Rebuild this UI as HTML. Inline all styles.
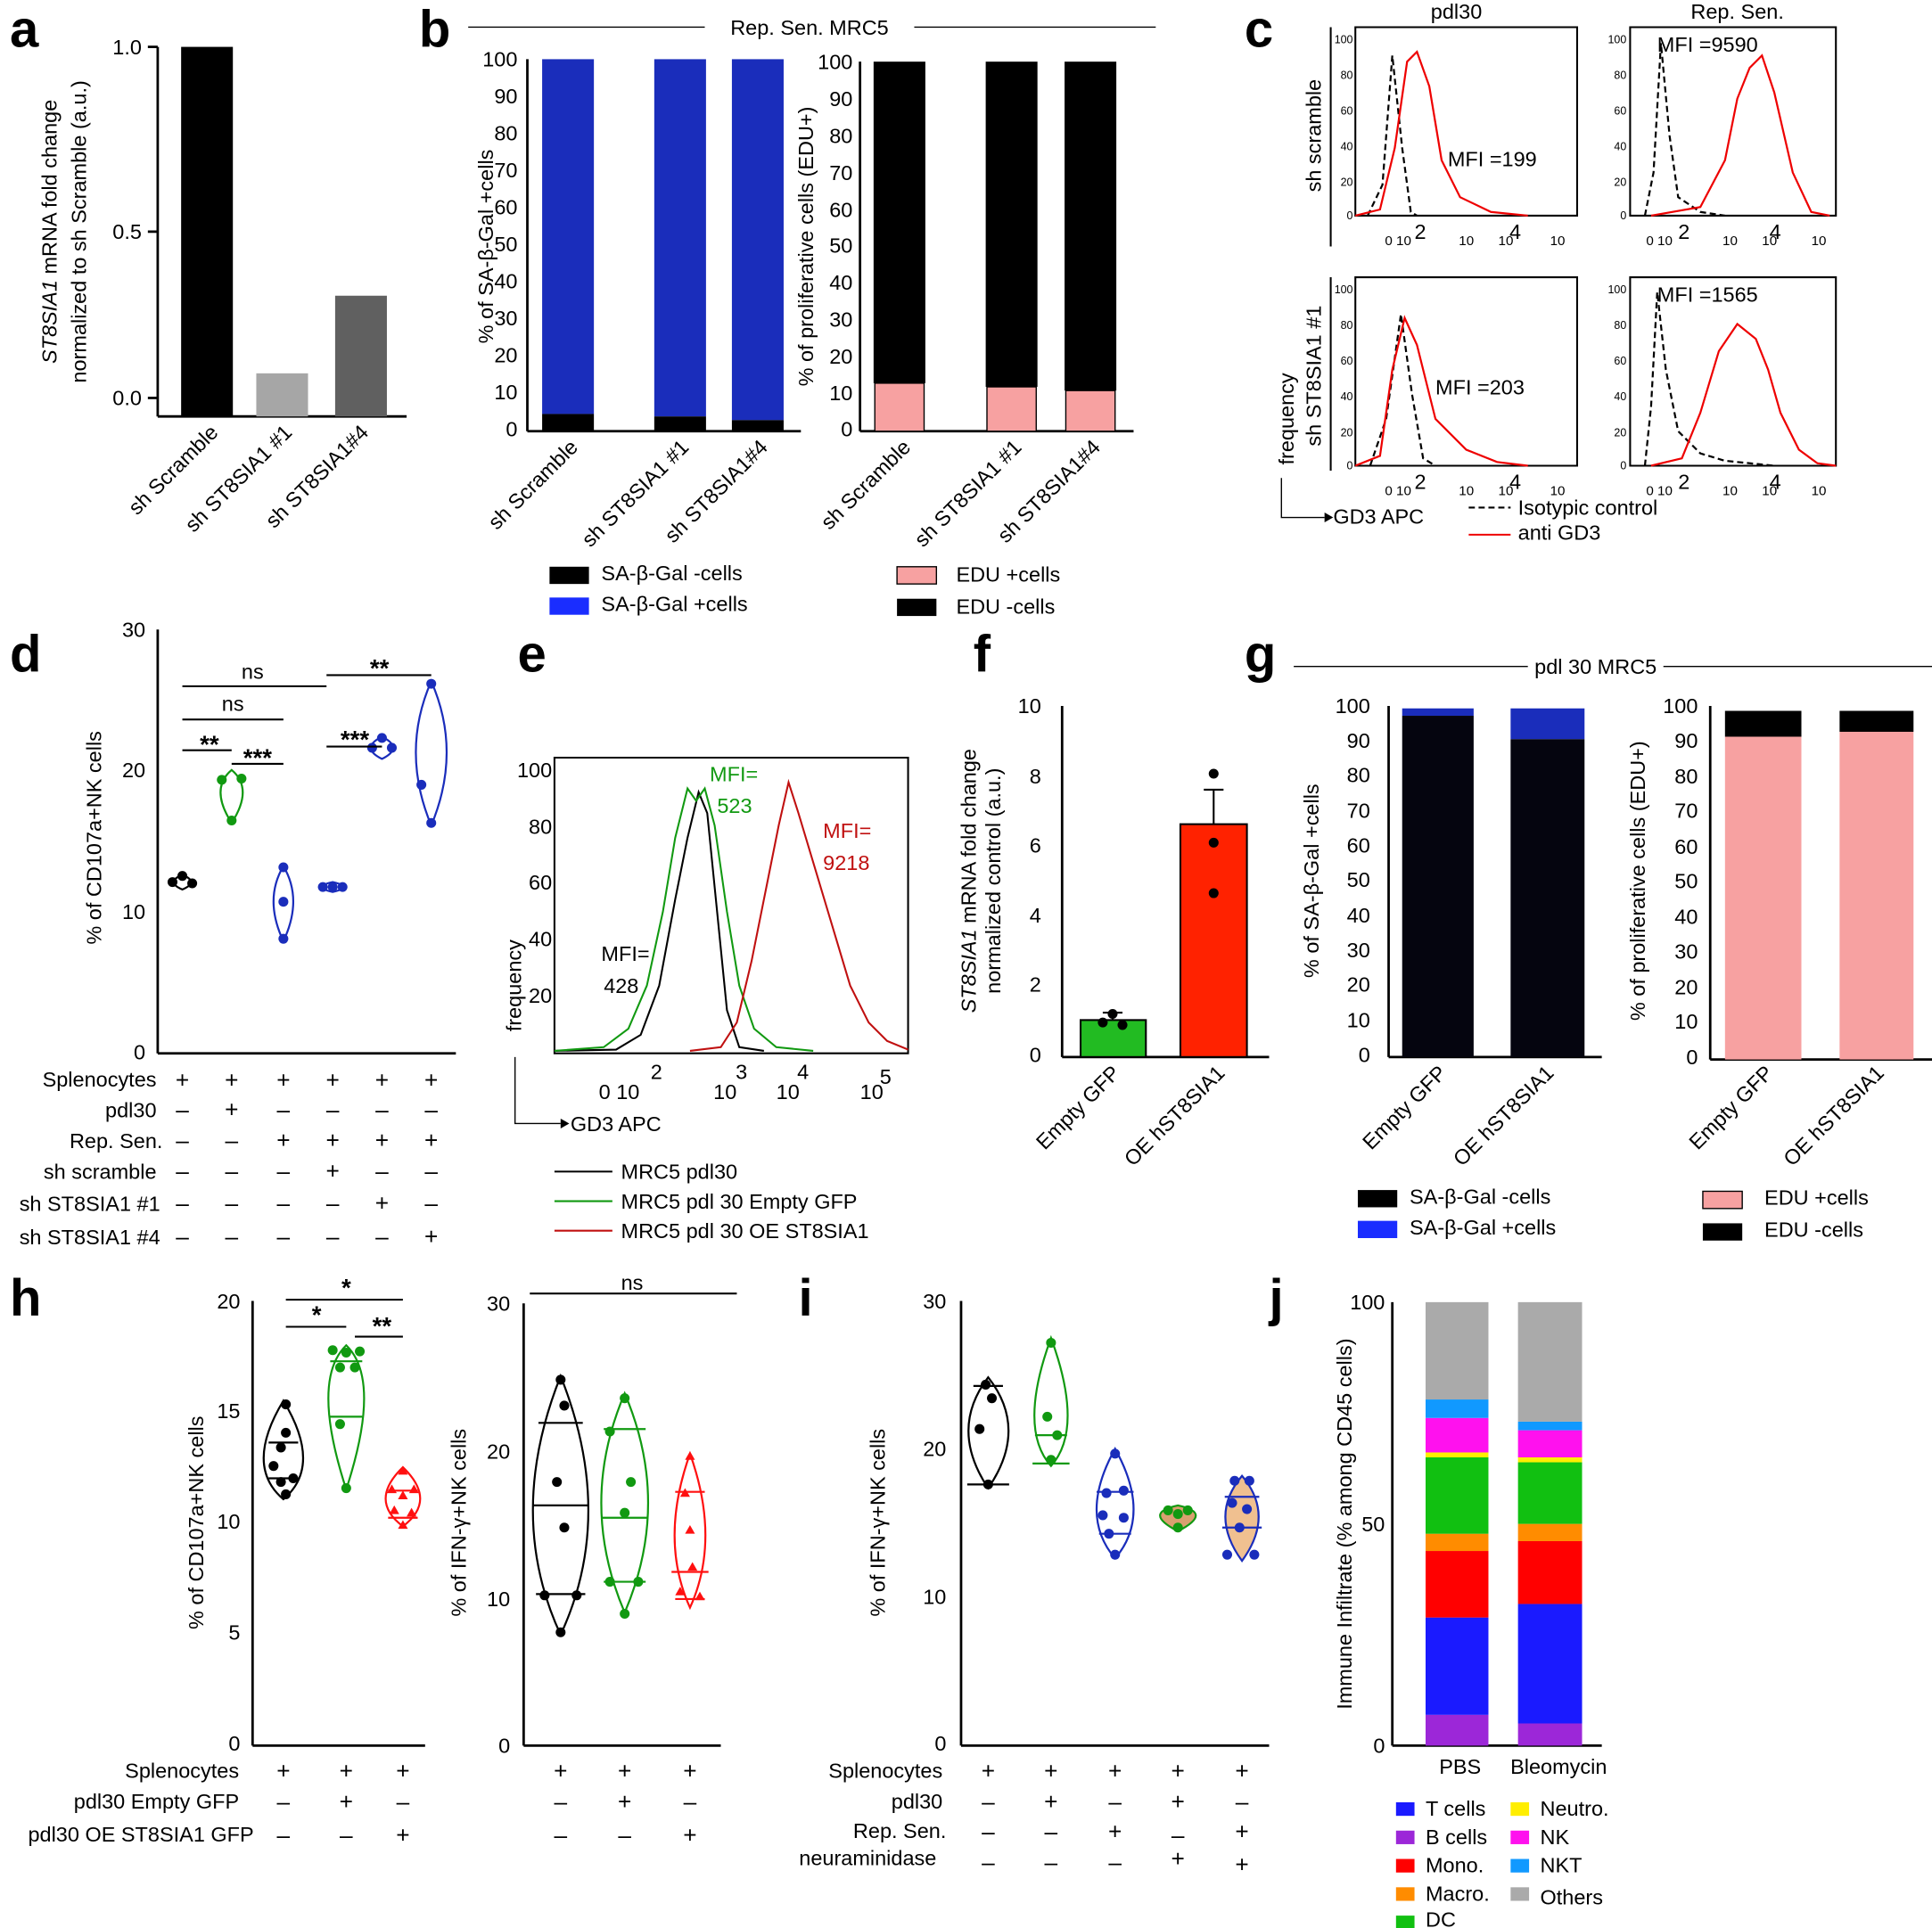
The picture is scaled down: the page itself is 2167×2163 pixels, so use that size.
<!DOCTYPE html>
<html><head><meta charset="utf-8"><style>html,body{margin:0;padding:0;background:#fff}svg{display:block}text{font-family:"Liberation Sans",sans-serif}</style></head><body>
<svg width="2167" height="2163" viewBox="0 0 1568 1565" xmlns="http://www.w3.org/2000/svg">
<rect width="1568" height="1565" fill="#fff"/>
<g font-weight="bold" font-size="42">
<text x="8" y="38">a</text><text x="340" y="38">b</text><text x="1010" y="38">c</text>
<text x="8" y="545">d</text><text x="420" y="545">e</text><text x="790" y="545">f</text><text x="1010" y="545">g</text>
<text x="8" y="1068">h</text><text x="648" y="1068">i</text><text x="1030" y="1068">j</text>
</g>
<g font-size="17" fill="#000">
<!-- a -->
<line x1="128" y1="38" x2="128" y2="338" stroke="#000" stroke-width="2"/>
<line x1="128" y1="338" x2="330" y2="338" stroke="#000" stroke-width="2"/>
<g stroke="#000" stroke-width="2"><line x1="120" y1="38" x2="128" y2="38"/><line x1="120" y1="188" x2="128" y2="188"/><line x1="120" y1="323" x2="128" y2="323"/></g>
<text x="115" y="44" text-anchor="end">1.0</text><text x="115" y="194" text-anchor="end">0.5</text><text x="115" y="329" text-anchor="end">0.0</text>
<rect x="147" y="38" width="42" height="300" fill="#000"/><rect x="208" y="303" width="42" height="35" fill="#a6a6a6"/><rect x="272" y="240" width="42" height="98" fill="#606060"/>
<text transform="translate(46,188) rotate(-90)" text-anchor="middle"><tspan font-style="italic">ST8SIA1</tspan> mRNA fold change</text>
<text transform="translate(70,188) rotate(-90)" text-anchor="middle">normalized to sh Scramble (a.u.)</text>
<text transform="translate(178,352) rotate(-45)" text-anchor="end">sh Scramble</text>
<text transform="translate(238,352) rotate(-45)" text-anchor="end">sh ST8SIA1 #1</text>
<text transform="translate(300,352) rotate(-45)" text-anchor="end">sh ST8SIA1#4</text>
<!-- b -->
<line x1="380" y1="22" x2="572" y2="22" stroke="#000"/><line x1="742" y1="22" x2="938" y2="22" stroke="#000"/>
<text x="657" y="28" text-anchor="middle">Rep. Sen. MRC5</text>
<line x1="428" y1="48" x2="428" y2="350" stroke="#000" stroke-width="2"/><line x1="428" y1="350" x2="650" y2="350" stroke="#000" stroke-width="2"/>
<g text-anchor="end">
<text x="420" y="54">100</text><text x="420" y="84">90</text><text x="420" y="114">80</text><text x="420" y="144">70</text><text x="420" y="174">60</text><text x="420" y="204">50</text><text x="420" y="234">40</text><text x="420" y="264">30</text><text x="420" y="294">20</text><text x="420" y="324">10</text><text x="420" y="354">0</text>
<text x="692" y="56">100</text><text x="692" y="86">90</text><text x="692" y="116">80</text><text x="692" y="146">70</text><text x="692" y="176">60</text><text x="692" y="205">50</text><text x="692" y="235">40</text><text x="692" y="265">30</text><text x="692" y="295">20</text><text x="692" y="325">10</text><text x="692" y="354">0</text>
</g>
<rect x="440" y="48" width="42" height="288" fill="#1a2dbb"/><rect x="440" y="336" width="42" height="14" fill="#000"/>
<rect x="531" y="48" width="42" height="290" fill="#1a2dbb"/><rect x="531" y="338" width="42" height="12" fill="#000"/>
<rect x="594" y="48" width="42" height="293" fill="#1a2dbb"/><rect x="594" y="341" width="42" height="9" fill="#000"/>
<text transform="translate(400,200) rotate(-90)" text-anchor="middle">% of SA-β-Gal +cells</text>
<line x1="698" y1="50" x2="698" y2="350" stroke="#000" stroke-width="2"/><line x1="698" y1="350" x2="920" y2="350" stroke="#000" stroke-width="2"/>
<rect x="709" y="50" width="42" height="261" fill="#000"/><rect x="710" y="311" width="40" height="39" fill="#f7a1a1" stroke="#000"/>
<rect x="800" y="50" width="42" height="264" fill="#000"/><rect x="801" y="314" width="40" height="36" fill="#f7a1a1" stroke="#000"/>
<rect x="864" y="50" width="42" height="267" fill="#000"/><rect x="865" y="317" width="40" height="33" fill="#f7a1a1" stroke="#000"/>
<text transform="translate(660,200) rotate(-90)" text-anchor="middle">% of proliferative cells (EDU+)</text>
<text transform="translate(470,364) rotate(-45)" text-anchor="end">sh Scramble</text>
<text transform="translate(560,364) rotate(-45)" text-anchor="end">sh ST8SIA1 #1</text>
<text transform="translate(624,364) rotate(-45)" text-anchor="end">sh ST8SIA1#4</text>
<text transform="translate(740,364) rotate(-45)" text-anchor="end">sh Scramble</text>
<text transform="translate(830,364) rotate(-45)" text-anchor="end">sh ST8SIA1 #1</text>
<text transform="translate(894,364) rotate(-45)" text-anchor="end">sh ST8SIA1#4</text>
<rect x="446" y="460" width="32" height="14" fill="#000"/><text x="488" y="471">SA-β-Gal -cells</text>
<rect x="446" y="485" width="32" height="14" fill="#1a2dff"/><text x="488" y="496">SA-β-Gal +cells</text>
<rect x="728" y="460" width="32" height="14" fill="#f7a1a1" stroke="#000"/><text x="776" y="472">EDU +cells</text>
<rect x="728" y="486" width="32" height="14" fill="#000"/><text x="776" y="498">EDU -cells</text>
<!-- c -->
<g font-size="9">
<g fill="none" stroke="#000" stroke-width="1.5">
<path d="M1100 22H1280V175H1100Z"/><path d="M1323 22H1490V175H1323Z"/><path d="M1100 225H1280V378H1100Z"/><path d="M1323 225H1490V378H1323Z"/>
<line x1="1080" y1="22" x2="1080" y2="200"/><line x1="1080" y1="225" x2="1080" y2="382"/>
</g>
<text x="1098" y="35" text-anchor="end">100</text><text x="1098" y="64" text-anchor="end">80</text><text x="1098" y="93" text-anchor="end">60</text><text x="1098" y="122" text-anchor="end">40</text><text x="1098" y="151" text-anchor="end">20</text><text x="1098" y="178" text-anchor="end">0</text>
<text x="1320" y="35" text-anchor="end">100</text><text x="1320" y="64" text-anchor="end">80</text><text x="1320" y="93" text-anchor="end">60</text><text x="1320" y="122" text-anchor="end">40</text><text x="1320" y="151" text-anchor="end">20</text><text x="1320" y="178" text-anchor="end">0</text>
<text x="1098" y="238" text-anchor="end">100</text><text x="1098" y="267" text-anchor="end">80</text><text x="1098" y="296" text-anchor="end">60</text><text x="1098" y="325" text-anchor="end">40</text><text x="1098" y="354" text-anchor="end">20</text><text x="1098" y="381" text-anchor="end">0</text>
<text x="1320" y="238" text-anchor="end">100</text><text x="1320" y="267" text-anchor="end">80</text><text x="1320" y="296" text-anchor="end">60</text><text x="1320" y="325" text-anchor="end">40</text><text x="1320" y="354" text-anchor="end">20</text><text x="1320" y="381" text-anchor="end">0</text>
</g>
<g font-size="11"><text x="1124" y="199">0  10</text><text x="1184" y="199">10</text><text x="1216" y="199">10</text><text x="1258" y="199">10</text>
<text x="1336" y="199">0  10</text><text x="1398" y="199">10</text><text x="1430" y="199">10</text><text x="1470" y="199">10</text>
<text x="1124" y="402">0  10</text><text x="1184" y="402">10</text><text x="1216" y="402">10</text><text x="1258" y="402">10</text>
<text x="1336" y="402">0  10</text><text x="1398" y="402">10</text><text x="1430" y="402">10</text><text x="1470" y="402">10</text></g>
<g font-size="17"><text x="1148" y="194">2</text><text x="1225" y="194">4</text><text x="1362" y="194">2</text><text x="1436" y="194">4</text><text x="1148" y="397">2</text><text x="1225" y="397">4</text><text x="1362" y="397">2</text><text x="1436" y="397">4</text></g>
<g fill="none" stroke-width="1.6">
<path d="M1110 175L1122 150L1130 45L1138 120L1145 172L1150 175" stroke="#000" stroke-dasharray="5,3"/>
<path d="M1100 175L1120 170L1132 120L1142 50L1150 42L1160 70L1170 130L1185 160L1210 172L1240 175" stroke="#e00"/>
<path d="M1335 175L1342 140L1348 35L1355 110L1362 160L1380 172L1400 175" stroke="#000" stroke-dasharray="5,3"/>
<path d="M1340 175L1380 168L1400 130L1410 80L1420 55L1430 45L1440 75L1455 140L1470 172L1485 175" stroke="#e00"/>
<path d="M1112 378L1125 340L1137 255L1146 320L1155 372L1165 378" stroke="#000" stroke-dasharray="5,3"/>
<path d="M1100 378L1120 370L1130 300L1140 258L1150 280L1165 340L1190 365L1215 375L1240 378" stroke="#e00"/>
<path d="M1335 378L1340 330L1345 237L1352 300L1362 350L1380 368L1400 374L1440 378" stroke="#000" stroke-dasharray="5,3"/>
<path d="M1340 378L1365 372L1380 335L1395 285L1410 263L1425 275L1435 300L1445 335L1460 365L1475 376L1490 378" stroke="#e00"/>
</g>
<text x="1175" y="135">MFI =199</text><text x="1345" y="42">MFI =9590</text><text x="1165" y="320">MFI =203</text><text x="1345" y="245">MFI =1565</text>
<text x="1182" y="15" text-anchor="middle">pdl30</text><text x="1410" y="15" text-anchor="middle">Rep. Sen.</text>
<text transform="translate(1072,110) rotate(-90)" text-anchor="middle">sh scramble</text>
<text transform="translate(1072,305) rotate(-90)" text-anchor="middle">sh ST8SIA1 #1</text>
<text transform="translate(1050,340) rotate(-90)" text-anchor="middle">frequency</text>
<path d="M1040 388V420H1075" fill="none" stroke="#000"/><path d="M1075 416L1082 420L1075 424Z"/>
<text x="1082" y="425">GD3 APC</text>
<line x1="1192" y1="412" x2="1226" y2="412" stroke="#000" stroke-dasharray="5,3" stroke-width="1.5"/><text x="1232" y="418">Isotypic control</text>
<line x1="1192" y1="434" x2="1226" y2="434" stroke="#e00" stroke-width="1.5"/><text x="1232" y="438">anti GD3</text>
<!-- d -->
<line x1="128" y1="511" x2="128" y2="855" stroke="#000" stroke-width="2"/><line x1="128" y1="855" x2="370" y2="855" stroke="#000" stroke-width="2"/>
<g text-anchor="end"><text x="118" y="517">30</text><text x="118" y="631">20</text><text x="118" y="746">10</text><text x="118" y="860">0</text></g>
<text transform="translate(82,680) rotate(-90)" text-anchor="middle">% of CD107a+NK cells</text>
<g fill="none" stroke-width="1.6">
<path d="M148 710Q162 716 148 722Q134 716 148 710Z" stroke="#000"/>
<path d="M188 625Q206 640 188 668Q170 640 188 625Z" stroke="#119911"/>
<path d="M230 703Q246 730 230 764Q214 730 230 703Z" stroke="#1a2dbb"/>
<path d="M270 716Q288 720 270 724Q252 720 270 716Z" stroke="#1a2dbb"/>
<path d="M310 598Q328 607 310 616Q292 607 310 598Z" stroke="#1a2dbb"/>
<path d="M350 553Q375 610 350 670Q325 610 350 553Z" stroke="#1a2dbb"/>
</g>
<g fill="#000"><circle cx="140" cy="716" r="4"/><circle cx="148" cy="711" r="4"/><circle cx="156" cy="717" r="4"/></g>
<g fill="#119911"><circle cx="180" cy="633" r="4"/><circle cx="196" cy="632" r="4"/><circle cx="188" cy="666" r="4"/></g>
<g fill="#1a2dbb"><circle cx="230" cy="704" r="4"/><circle cx="230" cy="732" r="4"/><circle cx="230" cy="762" r="4"/><circle cx="262" cy="720" r="4"/><circle cx="270" cy="720" r="4"/><circle cx="278" cy="720" r="4"/><circle cx="302" cy="607" r="4"/><circle cx="310" cy="599" r="4"/><circle cx="318" cy="607" r="4"/><circle cx="350" cy="555" r="4"/><circle cx="342" cy="637" r="4"/><circle cx="350" cy="668" r="4"/></g>
<g stroke="#000" stroke-width="1.5"><line x1="148" y1="557" x2="265" y2="557"/><line x1="148" y1="584" x2="230" y2="584"/><line x1="148" y1="609" x2="188" y2="609"/><line x1="188" y1="620" x2="230" y2="620"/><line x1="265" y1="548" x2="350" y2="548"/><line x1="265" y1="606" x2="310" y2="606"/></g>
<text x="205" y="551" text-anchor="middle">ns</text><text x="189" y="577" text-anchor="middle">ns</text>
<g font-weight="bold" font-size="20" text-anchor="middle"><text x="170" y="611">**</text><text x="209" y="622">***</text><text x="308" y="549">**</text><text x="288" y="607">***</text></g>
<g text-anchor="end"><text x="127" y="882">Splenocytes</text><text x="127" y="907">pdl30</text><text x="132" y="932">Rep. Sen.</text><text x="127" y="957">sh scramble</text><text x="130" y="983">sh ST8SIA1 #1</text><text x="130" y="1010">sh ST8SIA1 #4</text></g>
<g text-anchor="middle" font-size="19">
<text x="148" y="883">+</text><text x="188" y="883">+</text><text x="230" y="883">+</text><text x="270" y="883">+</text><text x="310" y="883">+</text><text x="350" y="883">+</text>
<text x="148" y="907">–</text><text x="188" y="907">+</text><text x="230" y="907">–</text><text x="270" y="907">–</text><text x="310" y="907">–</text><text x="350" y="907">–</text>
<text x="148" y="932">–</text><text x="188" y="932">–</text><text x="230" y="932">+</text><text x="270" y="932">+</text><text x="310" y="932">+</text><text x="350" y="932">+</text>
<text x="148" y="957">–</text><text x="188" y="957">–</text><text x="230" y="957">–</text><text x="270" y="957">+</text><text x="310" y="957">–</text><text x="350" y="957">–</text>
<text x="148" y="983">–</text><text x="188" y="983">–</text><text x="230" y="983">–</text><text x="270" y="983">–</text><text x="310" y="983">+</text><text x="350" y="983">–</text>
<text x="148" y="1010">–</text><text x="188" y="1010">–</text><text x="230" y="1010">–</text><text x="270" y="1010">–</text><text x="310" y="1010">–</text><text x="350" y="1010">+</text>
</g>
<!-- e -->
<path d="M450 615H737V855H450Z" fill="none" stroke="#000" stroke-width="1.5"/>
<g text-anchor="end"><text x="448" y="631">100</text><text x="448" y="677">80</text><text x="448" y="722">60</text><text x="448" y="768">40</text><text x="448" y="814">20</text></g>
<g fill="none" stroke-width="1.5">
<path d="M450 853L500 852L520 840L535 800L548 730L558 680L567 643L574 660L582 740L590 820L600 850L620 853" stroke="#000"/>
<path d="M450 853L490 850L510 835L525 800L538 740L548 680L558 640L565 650L572 640L580 670L590 740L600 800L612 835L630 850L660 853" stroke="#119911"/>
<path d="M560 853L585 850L598 830L610 780L622 720L632 670L640 635L648 660L660 700L675 750L690 800L705 830L720 845L737 852" stroke="#c01010"/>
</g>
<text x="488" y="780">MFI=</text><text x="490" y="806">428</text>
<text x="576" y="634" fill="#119911">MFI=</text><text x="582" y="660" fill="#119911">523</text>
<text x="668" y="680" fill="#c01010">MFI=</text><text x="668" y="706" fill="#c01010">9218</text>
<text x="486" y="892">0  10</text><text x="528" y="876">2</text><text x="579" y="892">10</text><text x="597" y="876">3</text><text x="630" y="892">10</text><text x="647" y="876">4</text><text x="698" y="892">10</text><text x="714" y="880">5</text>
<text transform="translate(423,800) rotate(-90)" text-anchor="middle">frequency</text>
<path d="M418 858V912H455" fill="none" stroke="#000"/><path d="M455 908L462 912L455 916Z"/>
<text x="463" y="918">GD3 APC</text>
<line x1="450" y1="951" x2="497" y2="951" stroke="#000" stroke-width="1.5"/><text x="504" y="957">MRC5 pdl30</text>
<line x1="450" y1="975" x2="497" y2="975" stroke="#119911" stroke-width="1.5"/><text x="504" y="981">MRC5 pdl 30 Empty GFP</text>
<line x1="450" y1="999" x2="497" y2="999" stroke="#c01010" stroke-width="1.5"/><text x="504" y="1005">MRC5 pdl 30 OE ST8SIA1</text>
<!-- f -->
<line x1="862" y1="573" x2="862" y2="858" stroke="#000" stroke-width="2"/><line x1="862" y1="858" x2="1030" y2="858" stroke="#000" stroke-width="2"/>
<g text-anchor="end"><text x="845" y="579">10</text><text x="845" y="636">8</text><text x="845" y="692">6</text><text x="845" y="749">4</text><text x="845" y="805">2</text><text x="845" y="862">0</text></g>
<rect x="877" y="828" width="53" height="30" fill="#22bb22" stroke="#000" stroke-width="1.5"/>
<rect x="958" y="669" width="54" height="189" fill="#ff2200" stroke="#000" stroke-width="1.5"/>
<g stroke="#000" stroke-width="1.5"><path d="M903 828V822M895 822H911"/><path d="M985 669V641M977 641H993"/></g>
<g fill="#000"><circle cx="895" cy="830" r="4"/><circle cx="903" cy="823" r="4"/><circle cx="911" cy="832" r="4"/><circle cx="985" cy="628" r="4"/><circle cx="985" cy="684" r="4"/><circle cx="985" cy="725" r="4"/></g>
<text transform="translate(792,715) rotate(-90)" text-anchor="middle"><tspan font-style="italic">ST8SIA1</tspan> mRNA fold change</text>
<text transform="translate(812,715) rotate(-90)" text-anchor="middle">normalized control (a.u.)</text>
<text transform="translate(910,872) rotate(-45)" text-anchor="end">Empty GFP</text>
<text transform="translate(995,872) rotate(-45)" text-anchor="end">OE hST8SIA1</text>
<!-- g -->
<line x1="1050" y1="541" x2="1240" y2="541" stroke="#000"/><line x1="1350" y1="541" x2="1568" y2="541" stroke="#000"/>
<text x="1295" y="547" text-anchor="middle">pdl 30 MRC5</text>
<line x1="1127" y1="573" x2="1127" y2="858" stroke="#000" stroke-width="2"/><line x1="1127" y1="858" x2="1300" y2="858" stroke="#000" stroke-width="2"/>
<g text-anchor="end">
<text x="1112" y="579">100</text><text x="1112" y="607">90</text><text x="1112" y="635">80</text><text x="1112" y="664">70</text><text x="1112" y="692">60</text><text x="1112" y="720">50</text><text x="1112" y="749">40</text><text x="1112" y="777">30</text><text x="1112" y="805">20</text><text x="1112" y="834">10</text><text x="1112" y="862">0</text>
<text x="1378" y="579">100</text><text x="1378" y="607">90</text><text x="1378" y="636">80</text><text x="1378" y="664">70</text><text x="1378" y="693">60</text><text x="1378" y="721">50</text><text x="1378" y="750">40</text><text x="1378" y="778">30</text><text x="1378" y="807">20</text><text x="1378" y="835">10</text><text x="1378" y="864">0</text>
</g>
<rect x="1138" y="575" width="58" height="6" fill="#1a2dbb"/><rect x="1138" y="581" width="58" height="277" fill="#05050f"/>
<rect x="1226" y="575" width="60" height="25" fill="#1a2dbb"/><rect x="1226" y="600" width="60" height="258" fill="#05050f"/>
<text transform="translate(1070,715) rotate(-90)" text-anchor="middle">% of SA-β-Gal +cells</text>
<line x1="1388" y1="573" x2="1388" y2="860" stroke="#000" stroke-width="2"/><line x1="1388" y1="860" x2="1568" y2="860" stroke="#000" stroke-width="2"/>
<rect x="1400" y="577" width="62" height="21" fill="#000"/><rect x="1400" y="598" width="62" height="262" fill="#f7a1a1"/>
<rect x="1493" y="577" width="60" height="17" fill="#000"/><rect x="1493" y="594" width="60" height="266" fill="#f7a1a1"/>
<text transform="translate(1335,715) rotate(-90)" text-anchor="middle">% of proliferative cells (EDU+)</text>
<text transform="translate(1175,872) rotate(-45)" text-anchor="end">Empty GFP</text>
<text transform="translate(1262,872) rotate(-45)" text-anchor="end">OE hST8SIA1</text>
<text transform="translate(1440,872) rotate(-45)" text-anchor="end">Empty GFP</text>
<text transform="translate(1530,872) rotate(-45)" text-anchor="end">OE hST8SIA1</text>
<rect x="1102" y="966" width="32" height="14" fill="#000"/><text x="1144" y="977">SA-β-Gal -cells</text>
<rect x="1102" y="991" width="32" height="14" fill="#1a2dff"/><text x="1144" y="1002">SA-β-Gal +cells</text>
<rect x="1382" y="967" width="32" height="14" fill="#f7a1a1" stroke="#000"/><text x="1432" y="978">EDU +cells</text>
<rect x="1382" y="993" width="32" height="14" fill="#000"/><text x="1432" y="1004">EDU -cells</text>
<!-- h left -->
<line x1="205" y1="1056" x2="205" y2="1417" stroke="#000" stroke-width="2"/><line x1="205" y1="1417" x2="345" y2="1417" stroke="#000" stroke-width="2"/>
<g text-anchor="end"><text x="195" y="1062">20</text><text x="195" y="1151">15</text><text x="195" y="1241">10</text><text x="195" y="1331">5</text><text x="195" y="1421">0</text></g>
<text transform="translate(165,1236) rotate(-90)" text-anchor="middle">% of CD107a+NK cells</text>
<g fill="none" stroke-width="1.6">
<path d="M230 1137Q262 1190 230 1217Q198 1190 230 1137Z" stroke="#000"/><path d="M218 1171H242M218 1200H242" stroke="#000"/>
<path d="M281 1092Q310 1120 281 1209Q252 1120 281 1092Z" stroke="#119911"/><path d="M268 1105H294M268 1150H294" stroke="#119911"/>
<path d="M327 1191Q355 1218 327 1239Q299 1218 327 1191Z" stroke="#ff1010"/><path d="M315 1210H339M315 1232H339" stroke="#ff1010"/>
</g>
<g fill="#000"><circle cx="232" cy="1140" r="4"/><circle cx="232" cy="1163" r="4"/><circle cx="228" cy="1175" r="4"/><circle cx="222" cy="1190" r="4"/><circle cx="238" cy="1200" r="4"/><circle cx="228" cy="1203" r="4"/><circle cx="232" cy="1213" r="4"/></g>
<g fill="#119911"><circle cx="270" cy="1096" r="4"/><circle cx="281" cy="1098" r="4"/><circle cx="292" cy="1097" r="4"/><circle cx="276" cy="1110" r="4"/><circle cx="288" cy="1110" r="4"/><circle cx="276" cy="1156" r="4"/><circle cx="281" cy="1208" r="4"/></g>
<g fill="#ff1010"><path d="M327 1190l4 7h-8z"/><path d="M318 1205l4 7h-8z"/><path d="M336 1205l4 7h-8z"/><path d="M327 1210l4 7h-8z"/><path d="M320 1222l4 7h-8z"/><path d="M334 1224l4 7h-8z"/><path d="M327 1234l4 7h-8z"/></g>
<g stroke="#000" stroke-width="1.5"><line x1="232" y1="1055" x2="327" y2="1055"/><line x1="232" y1="1077" x2="281" y2="1077"/><line x1="288" y1="1085" x2="327" y2="1085"/></g>
<g font-weight="bold" font-size="20" text-anchor="middle"><text x="281" y="1052">*</text><text x="257" y="1074">*</text><text x="310" y="1083">**</text></g>
<g text-anchor="end"><text x="194" y="1443">Splenocytes</text><text x="194" y="1468">pdl30 Empty GFP</text><text x="206" y="1495">pdl30 OE ST8SIA1 GFP</text></g>
<g text-anchor="middle" font-size="19"><text x="230" y="1444">+</text><text x="281" y="1444">+</text><text x="327" y="1444">+</text><text x="230" y="1469">–</text><text x="281" y="1469">+</text><text x="327" y="1469">–</text><text x="230" y="1496">–</text><text x="281" y="1496">–</text><text x="327" y="1496">+</text></g>
<!-- h right -->
<line x1="425" y1="1058" x2="425" y2="1417" stroke="#000" stroke-width="2"/><line x1="425" y1="1417" x2="585" y2="1417" stroke="#000" stroke-width="2"/>
<g text-anchor="end"><text x="414" y="1064">30</text><text x="414" y="1184">20</text><text x="414" y="1304">10</text><text x="414" y="1423">0</text></g>
<text transform="translate(378,1236) rotate(-90)" text-anchor="middle">% of IFN-γ+NK cells</text>
<line x1="430" y1="1050" x2="598" y2="1050" stroke="#000" stroke-width="1.5"/><text x="513" y="1047" text-anchor="middle">ns</text>
<g fill="none" stroke-width="1.6">
<path d="M455 1117Q500 1230 455 1327Q410 1230 455 1117Z" stroke="#000"/><path d="M437 1155H473M433 1222H477M435 1294H475" stroke="#000"/>
<path d="M507 1131Q545 1220 507 1309Q469 1220 507 1131Z" stroke="#119911"/><path d="M490 1160H524M488 1232H526M490 1284H524" stroke="#119911"/>
<path d="M560 1180Q585 1250 560 1305Q535 1250 560 1180Z" stroke="#ff1010"/><path d="M548 1211H572M545 1276H575M548 1298H572" stroke="#ff1010"/>
</g>
<g fill="#000"><circle cx="455" cy="1120" r="4"/><circle cx="458" cy="1141" r="4"/><circle cx="452" cy="1203" r="4"/><circle cx="458" cy="1240" r="4"/><circle cx="442" cy="1295" r="4"/><circle cx="468" cy="1295" r="4"/><circle cx="455" cy="1325" r="4"/></g>
<g fill="#119911"><circle cx="507" cy="1135" r="4"/><circle cx="495" cy="1162" r="4"/><circle cx="512" cy="1203" r="4"/><circle cx="507" cy="1228" r="4"/><circle cx="495" cy="1284" r="4"/><circle cx="518" cy="1284" r="4"/><circle cx="507" cy="1310" r="4"/></g>
<g fill="#ff1010"><path d="M560 1178l4 7h-8z"/><path d="M556 1208l4 7h-8z"/><path d="M560 1238l4 7h-8z"/><path d="M562 1268l4 7h-8z"/><path d="M552 1288l4 7h-8z"/><path d="M568 1292l4 7h-8z"/></g>
<g text-anchor="middle" font-size="19"><text x="455" y="1444">+</text><text x="507" y="1444">+</text><text x="560" y="1444">+</text><text x="455" y="1469">–</text><text x="507" y="1469">+</text><text x="560" y="1469">–</text><text x="455" y="1496">–</text><text x="507" y="1496">–</text><text x="560" y="1496">+</text></g>
<!-- i -->
<line x1="780" y1="1056" x2="780" y2="1417" stroke="#000" stroke-width="2"/><line x1="780" y1="1417" x2="1030" y2="1417" stroke="#000" stroke-width="2"/>
<g text-anchor="end"><text x="768" y="1062">30</text><text x="768" y="1182">20</text><text x="768" y="1302">10</text><text x="768" y="1421">0</text></g>
<text transform="translate(718,1236) rotate(-90)" text-anchor="middle">% of IFN-γ+NK cells</text>
<g fill="none" stroke-width="1.6">
<path d="M802 1118Q835 1160 802 1208Q770 1160 802 1118Z" stroke="#000"/><path d="M790 1125H814M785 1205H819" stroke="#000"/>
<path d="M853 1086Q880 1160 853 1190Q826 1160 853 1086Z" stroke="#119911"/><path d="M840 1165H866M838 1188H868" stroke="#119911"/>
<path d="M905 1176Q935 1230 905 1265Q875 1230 905 1176Z" stroke="#1a2dbb"/><path d="M890 1211H920M892 1245H918" stroke="#1a2dbb"/>
<path d="M956 1222Q985 1228 956 1243Q927 1228 956 1222Z" stroke="#119911" fill="#d9a070"/>
<path d="M1008 1198Q1035 1230 1008 1267Q981 1230 1008 1198Z" stroke="#1a2dbb" fill="#f0c090"/><path d="M994 1215H1022M992 1240H1024" stroke="#1a2dbb"/>
</g>
<g fill="#000"><circle cx="800" cy="1124" r="4"/><circle cx="805" cy="1135" r="4"/><circle cx="795" cy="1160" r="4"/><circle cx="802" cy="1205" r="4"/></g>
<g fill="#119911"><circle cx="853" cy="1090" r="4"/><circle cx="850" cy="1150" r="4"/><circle cx="858" cy="1165" r="4"/><circle cx="853" cy="1185" r="4"/><circle cx="948" cy="1226" r="4"/><circle cx="956" cy="1229" r="4"/><circle cx="964" cy="1226" r="4"/><circle cx="956" cy="1240" r="4"/></g>
<g fill="#1a2dbb"><circle cx="905" cy="1180" r="4"/><circle cx="912" cy="1210" r="4"/><circle cx="898" cy="1212" r="4"/><circle cx="895" cy="1230" r="4"/><circle cx="912" cy="1232" r="4"/><circle cx="900" cy="1245" r="4"/><circle cx="905" cy="1262" r="4"/><circle cx="1002" cy="1202" r="4"/><circle cx="1014" cy="1202" r="4"/><circle cx="1000" cy="1220" r="4"/><circle cx="1012" cy="1225" r="4"/><circle cx="1006" cy="1240" r="4"/><circle cx="996" cy="1262" r="4"/><circle cx="1018" cy="1262" r="4"/></g>
<g text-anchor="end"><text x="765" y="1443">Splenocytes</text><text x="765" y="1468">pdl30</text><text x="768" y="1492">Rep. Sen.</text><text x="760" y="1514">neuraminidase</text></g>
<g text-anchor="middle" font-size="19">
<text x="802" y="1444">+</text><text x="853" y="1444">+</text><text x="905" y="1444">+</text><text x="956" y="1444">+</text><text x="1008" y="1444">+</text>
<text x="802" y="1469">–</text><text x="853" y="1469">+</text><text x="905" y="1469">–</text><text x="956" y="1469">+</text><text x="1008" y="1469">–</text>
<text x="802" y="1493">–</text><text x="853" y="1493">–</text><text x="905" y="1493">+</text><text x="956" y="1496">–</text><text x="1008" y="1493">+</text>
<text x="802" y="1518">–</text><text x="853" y="1518">–</text><text x="905" y="1518">–</text><text x="956" y="1515">+</text><text x="1008" y="1520">+</text>
</g>
<!-- j -->
<line x1="1130" y1="1057" x2="1130" y2="1417" stroke="#000" stroke-width="2"/><line x1="1130" y1="1417" x2="1300" y2="1417" stroke="#000" stroke-width="2"/>
<g text-anchor="end"><text x="1124" y="1063">100</text><text x="1124" y="1243">50</text><text x="1124" y="1423">0</text></g>
<text transform="translate(1097,1237) rotate(-90)" text-anchor="middle">Immune Infiltrate (% among CD45 cells)</text>
<g>
<rect x="1157" y="1392" width="51" height="25" fill="#9c27d8"/><rect x="1157" y="1313" width="51" height="79" fill="#1a1aff"/><rect x="1157" y="1259" width="51" height="54" fill="#ff0000"/><rect x="1157" y="1245" width="51" height="14" fill="#ff8c00"/><rect x="1157" y="1183" width="51" height="62" fill="#11c011"/><rect x="1157" y="1179" width="51" height="4" fill="#ffee00"/><rect x="1157" y="1151" width="51" height="28" fill="#ff11ee"/><rect x="1157" y="1136" width="51" height="15" fill="#1199ff"/><rect x="1157" y="1057" width="51" height="79" fill="#aaaaaa"/>
<rect x="1232" y="1399" width="52" height="18" fill="#9c27d8"/><rect x="1232" y="1302" width="52" height="97" fill="#1a1aff"/><rect x="1232" y="1251" width="52" height="51" fill="#ff0000"/><rect x="1232" y="1237" width="52" height="14" fill="#ff8c00"/><rect x="1232" y="1187" width="52" height="50" fill="#11c011"/><rect x="1232" y="1183" width="52" height="4" fill="#ffee00"/><rect x="1232" y="1161" width="52" height="22" fill="#ff11ee"/><rect x="1232" y="1154" width="52" height="7" fill="#1199ff"/><rect x="1232" y="1057" width="52" height="97" fill="#aaaaaa"/>
</g>
<text x="1185" y="1440" text-anchor="middle">PBS</text><text x="1265" y="1440" text-anchor="middle">Bleomycin</text>
<rect x="1133" y="1463" width="15" height="11" fill="#1a1aff"/><text x="1157" y="1474">T cells</text>
<rect x="1133" y="1486" width="15" height="11" fill="#9c27d8"/><text x="1157" y="1497">B cells</text>
<rect x="1133" y="1509" width="15" height="11" fill="#ff0000"/><text x="1157" y="1520">Mono.</text>
<rect x="1133" y="1532" width="15" height="11" fill="#ff8c00"/><text x="1157" y="1543">Macro.</text>
<rect x="1133" y="1555" width="15" height="11" fill="#11c011"/><text x="1157" y="1564">DC</text>
<rect x="1226" y="1463" width="15" height="11" fill="#ffee00"/><text x="1250" y="1474">Neutro.</text>
<rect x="1226" y="1486" width="15" height="11" fill="#ff11ee"/><text x="1250" y="1497">NK</text>
<rect x="1226" y="1509" width="15" height="11" fill="#1199ff"/><text x="1250" y="1520">NKT</text>
<rect x="1226" y="1532" width="15" height="11" fill="#aaaaaa"/><text x="1250" y="1546">Others</text>
</g>
</svg>
</body></html>
